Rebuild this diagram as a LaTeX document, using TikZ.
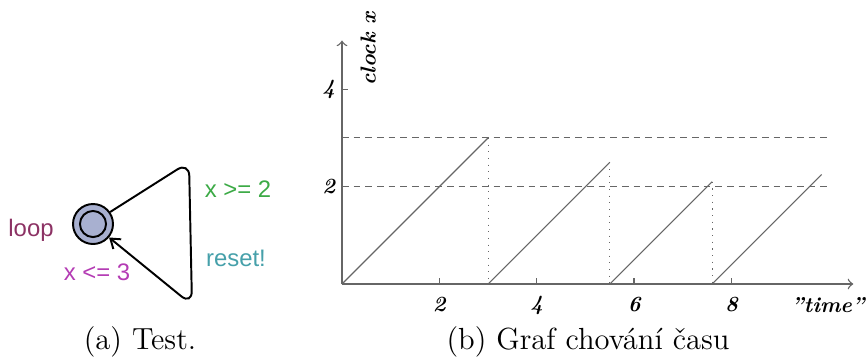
\documentclass[tikz,border=0pt]{standalone}
\usepackage{fontspec}
\newfontfamily\uppaalfont{Liberation Sans}
\usetikzlibrary{calc}
\usetikzlibrary{shapes}
\usetikzlibrary{arrows.meta}

\definecolor{locname}{RGB}{140,50,100}
\definecolor{guardcol}{RGB}{60,170,70}
\definecolor{synccol}{RGB}{70,160,170}
\definecolor{invcol}{RGB}{180,60,180}
\definecolor{statefill}{RGB}{168,176,208}

\tikzset{
  state/.style={circle, draw, line width=0.7pt, fill=statefill, minimum size=14.4pt, inner sep=0pt},
  statein/.style={circle, draw, line width=0.7pt, minimum size=9.4pt, inner sep=0pt},
  lbl/.style={font=\uppaalfont\fontsize{8.6}{10}\selectfont, anchor=base, inner sep=0pt},
  num/.style={font=\fontsize{7.8}{9}\selectfont\bfseries\itshape\addfontfeatures{Ligatures=TeXOff}, inner sep=0pt},
  axis/.style={draw=black!60, line width=0.5pt},
  clk/.style={draw=black!60, line width=0.4pt},
  captext/.style={font=\fontsize{11}{13}\selectfont, anchor=base, inner sep=0pt}
}

\begin{document}
\begin{tikzpicture}[>=to, x=0.36pt, y=-0.36pt]
\useasboundingbox (0,0) rectangle (866,359);

\node[name=loop, state] at (93,224) {};
\node[name=loop_in, statein] at (loop) {};
\coordinate (corner_top) at (189,162);
\coordinate (corner_bot) at (192,305);
\draw[line width=0.7pt, rounded corners=5pt, -{Straight Barb[length=3.2pt, width=4.5pt]}] (loop.35) -- (corner_top) -- (corner_bot) -- (loop.-40);

\node[name=loop_name, lbl, text=locname] at (31,236) {loop};
\node[name=guard, lbl, text=guardcol] at (238,197) {x >= 2};
\node[name=sync, lbl, text=synccol] at (236,266) {reset!};
\node[name=inv, lbl, text=invcol] at (97,280) {x <= 3};

\begin{scope}[shift={(342,284)}, x=17.53pt, y=17.53pt]
\draw[axis, ->] (0,0) -- (10.5,0);
\draw[axis, ->] (0,0) -- (0,5);
\foreach \t in {2,4,6,8} {
  \draw[axis] (\t,0) -- (\t,0.12);
  \node[num] at (\t,-0.43) {\t};
}
\draw[axis] (0,4) -- (0.12,4);
\node[num] at (-0.27,4) {4};
\node[num] at (-0.27,2) {2};
\node[num, rotate=90] at (0.54,4.83) {clock x};
\node[num] at (9.98,-0.43) {"time"};

\draw[clk, dashed, dash pattern=on 2.4pt off 1.8pt] (0,3) -- (10,3);
\draw[clk, dashed, dash pattern=on 2.4pt off 1.8pt] (0,2) -- (10,2);
\draw[clk] (0,0) -- (3,3);
\draw[clk, dotted] (3,3) -- (3,0);
\draw[clk] (3,0) -- (5.5,2.5);
\draw[clk, dotted] (5.5,2.5) -- (5.5,0);
\draw[clk] (5.5,0) -- (7.6,2.1);
\draw[clk, dotted] (7.6,2.1) -- (7.6,0);
\draw[clk] (7.6,0) -- (9.85,2.25);
\end{scope}

\node[name=cap_a, captext] at (140,349) {(a) Test.};
\node[name=cap_b, captext] at (588,349) {(b) Graf chování času};
\end{tikzpicture}
\end{document}
